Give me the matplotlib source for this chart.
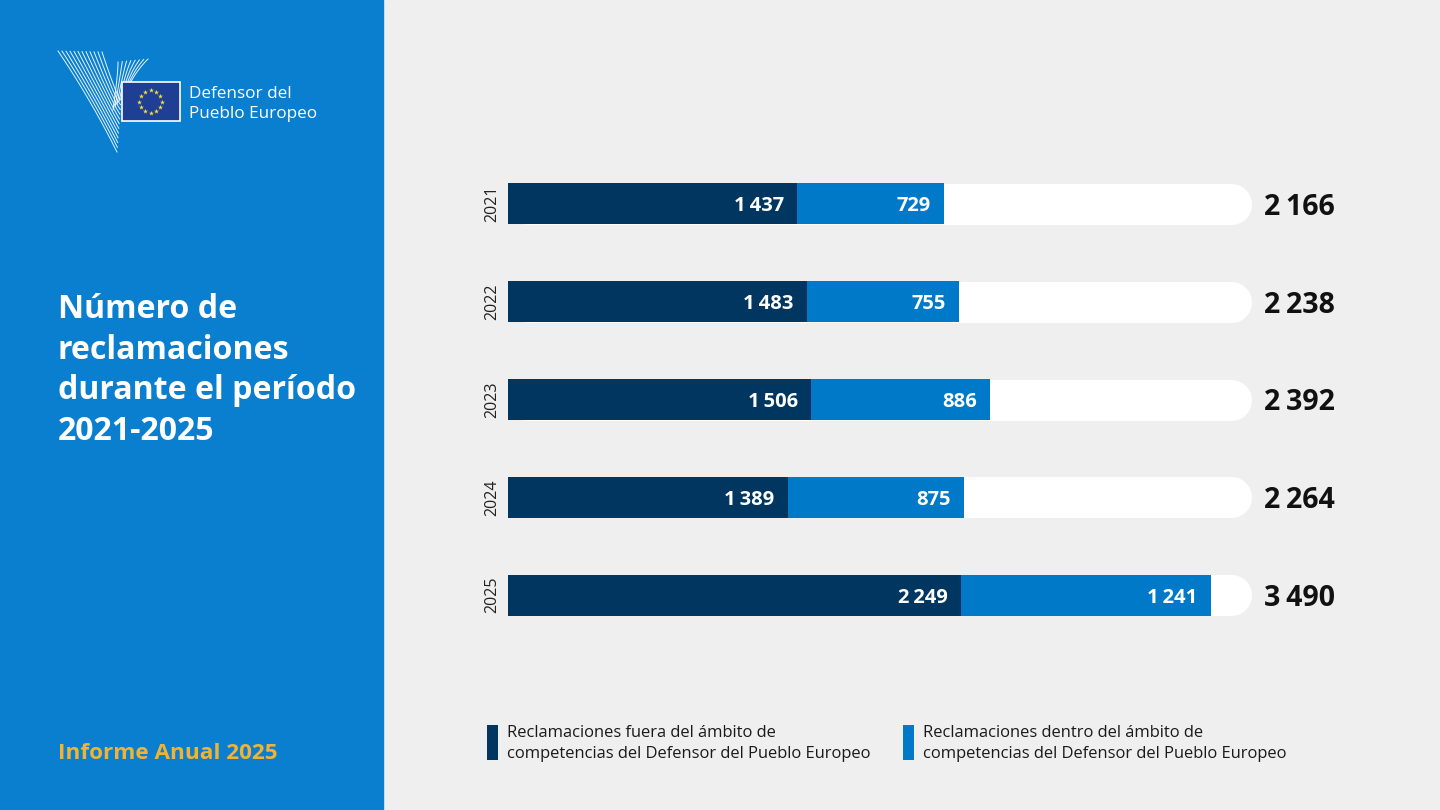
import numpy as np
import matplotlib
matplotlib.use("Agg")
import matplotlib.pyplot as plt
from matplotlib.patches import Rectangle

# ---------------- data ----------------
years = ["2021", "2022", "2023", "2024", "2025"]
outside = [1437, 1483, 1506, 1389, 2249]   # fuera del ámbito
inside = [729, 755, 886, 875, 1241]        # dentro del ámbito
totals = [2166, 2238, 2392, 2264, 3490]
track_max = 3696

title_lines = ["Número de", "reclamaciones", "durante el período", "2021-2025"]
subtitle = "Informe Anual 2025"
logo_lines = ["Defensor del", "Pueblo Europeo"]
legend_labels = [
    "Reclamaciones fuera del ámbito de\ncompetencias del Defensor del Pueblo Europeo",
    "Reclamaciones dentro del ámbito de\ncompetencias del Defensor del Pueblo Europeo",
]

# ---------------- style ----------------
PANEL = "#0a7fcf"
BG = "#efefef"
DARK = "#00365f"
MID = "#0079c9"
GOLD = "#f2b234"
FONT = ["Open Sans", "DejaVu Sans"]
plt.rcParams["font.family"] = FONT


def fmt(v):
    s = f"{v:,}"
    return s.replace(",", "\u2009")


W, H = 1440, 810
fig = plt.figure(figsize=(W / 100, H / 100), dpi=100, facecolor=BG)

# background / layout axes in pixel coordinates
bg = fig.add_axes([0, 0, 1, 1])
bg.set_xlim(0, W)
bg.set_ylim(H, 0)
bg.axis("off")
bg.add_patch(Rectangle((0, 0), 383, H, color=PANEL, zorder=0))

# ---- logo ----
# stylised "Y" swoosh
for k in range(12):
    t = k / 11
    x0, y0 = 58 + 44 * t, 51 + 1 * t
    x1, y1 = 117 + 4 * t, 152 - 52 * t
    xm, ym = 90 + 28 * t, 98 + 2 * t
    s = np.linspace(0, 1, 40)
    xs = (1 - s) ** 2 * x0 + 2 * (1 - s) * s * xm + s ** 2 * x1
    ys = (1 - s) ** 2 * y0 + 2 * (1 - s) * s * ym + s ** 2 * y1
    bg.plot(xs, ys, color="white", lw=0.7, alpha=0.9, zorder=2)
for k in range(8):
    t = k / 7
    x0, y0 = 118 + 30 * t, 62 - 3 * t
    x1, y1 = 113 + 14 * t, 110 - 20 * t
    xm, ym = 118 + 16 * t, 75 - 2 * t
    s = np.linspace(0, 1, 40)
    xs = (1 - s) ** 2 * x0 + 2 * (1 - s) * s * xm + s ** 2 * x1
    ys = (1 - s) ** 2 * y0 + 2 * (1 - s) * s * ym + s ** 2 * y1
    bg.plot(xs, ys, color="white", lw=0.7, alpha=0.9, zorder=2)
# EU flag
bg.add_patch(Rectangle((122, 82), 58, 39, facecolor="#1f3f94", edgecolor="white", lw=1.2, zorder=3))
ang = np.linspace(0, 2 * np.pi, 13)[:-1]
bg.scatter(150.5 + 11.5 * np.cos(ang), 101.5 + 11.5 * np.sin(ang), marker="*", s=14,
           color="#f5e03a", lw=0, zorder=4)
for i, line in enumerate(logo_lines):
    bg.text(189, 98 + 20 * i, line, color="white", fontsize=12.3, va="baseline", ha="left", zorder=4)

# ---- title ----
for i, line in enumerate(title_lines):
    bg.text(58, 318 + 40.7 * i, line, color="white", fontsize=23.1, fontweight="bold",
            va="baseline", ha="left")
bg.text(58, 759, subtitle, color=GOLD, fontsize=16.2, fontweight="bold", va="baseline", ha="left")

# ---- legend ----
leg_x = [487, 903]
for i, (lx, lab) in enumerate(zip(leg_x, legend_labels)):
    bg.add_patch(Rectangle((lx, 725), 11, 35, color=[DARK, MID][i], lw=0))
    l1, l2 = lab.split("\n")
    bg.text(lx + 20, 737, l1, color="#1a1a1a", fontsize=11.9, va="baseline", ha="left")
    bg.text(lx + 20, 758, l2, color="#1a1a1a", fontsize=11.9, va="baseline", ha="left")

# ---------------- bar axes ----------------
ax_left, ax_right = 508, 1252
ax_top, ax_bottom = 155, 644
ax = fig.add_axes([ax_left / W, 1 - ax_bottom / H, (ax_right - ax_left) / W, (ax_bottom - ax_top) / H])
ax.set_xlim(0, track_max)
ax.set_ylim(len(years) - 0.5, -0.5)
ax.axis("off")
ax.patch.set_alpha(0)

bar_h = 0.42
bar_px = bar_h * (ax_bottom - ax_top) / len(years)
units_per_px = track_max / (ax_right - ax_left)
r_units = bar_px / 2 * units_per_px
y = np.arange(len(years))

# white rounded track
for yi in y:
    ax.plot([r_units, track_max - r_units], [yi, yi], color="white", lw=bar_px * 0.72,
            solid_capstyle="round", zorder=1)

ax.barh(y, outside, height=bar_h, color=DARK, zorder=2, lw=0)
ax.barh(y, inside, left=outside, height=bar_h, color=MID, zorder=2, lw=0)

for yi, o, n, t, yr in zip(y, outside, inside, totals, years):
    ax.annotate(fmt(o), xy=(o, yi), xytext=(-13, 0), textcoords="offset pixels",
                ha="right", va="center_baseline", color="white", fontsize=14.5,
                fontweight="bold", zorder=3)
    ax.annotate(fmt(n), xy=(o + n, yi), xytext=(-13, 0), textcoords="offset pixels",
                ha="right", va="center_baseline", color="white", fontsize=14.5,
                fontweight="bold", zorder=3)
    ax.annotate(fmt(t), xy=(track_max, yi), xytext=(12, 0), textcoords="offset pixels",
                ha="left", va="center_baseline", color="#111111", fontsize=20.5,
                fontweight="bold", annotation_clip=False)
    ax.annotate(yr, xy=(0, yi), xytext=(-16, 0), textcoords="offset pixels",
                ha="center", va="center", rotation=90, color="#222222", fontsize=11.5,
                annotation_clip=False)

fig.savefig("out.png", dpi=100, facecolor=BG)
